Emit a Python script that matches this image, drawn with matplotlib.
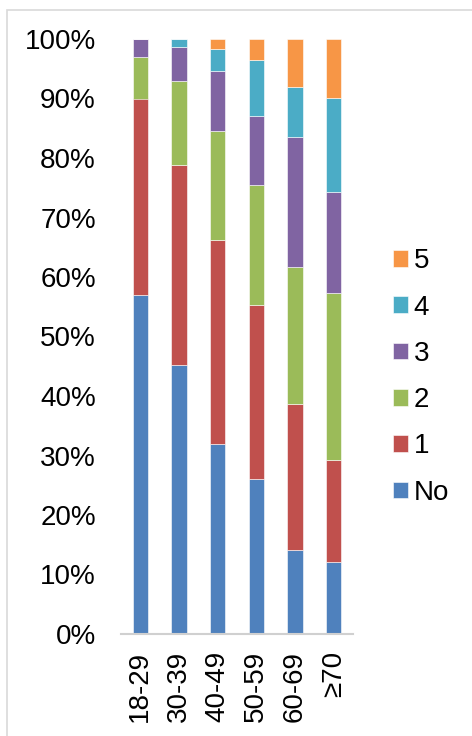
import matplotlib.pyplot as plt
import numpy as np
from matplotlib.patches import Rectangle
from matplotlib.ticker import PercentFormatter

plt.rcParams['font.family'] = ['Liberation Sans', 'DejaVu Sans']

# age groups and share of each count (percent)
groups = ["18-29", "30-39", "40-49", "50-59", "60-69", "\u226570"]
labels = ["No", "1", "2", "3", "4", "5"]
no_vals = [57.0, 45.2, 31.9, 26.1, 14.2, 12.1]
one_vals = [33.0, 33.7, 34.3, 29.2, 24.5, 17.1]
two_vals = [7.0, 14.0, 18.3, 20.1, 22.9, 28.1]
three_vals = [3.0, 5.8, 10.2, 11.7, 21.9, 17.0]
four_vals = [0.0, 1.3, 3.7, 9.3, 8.5, 15.8]
five_vals = [0.0, 0.0, 1.6, 3.6, 8.0, 9.9]
colors = ["#4f81bd", "#c0504d", "#9bbb59", "#8064a2", "#4bacc6", "#f79646"]

series = [no_vals, one_vals, two_vals, three_vals, four_vals, five_vals]

fig = plt.figure(figsize=(4.72, 7.36), dpi=100)
ax = fig.add_axes([121 / 472, 1 - 634 / 736, 232 / 472, 595 / 736])

x = np.arange(len(groups))
bottom = np.zeros(len(groups))
for vals, lab, col in zip(series, labels, colors):
    ax.bar(x, vals, width=0.4, bottom=bottom, color=col, label=lab,
           edgecolor="white", linewidth=0.4)
    bottom += np.array(vals)

ax.set_xlim(-0.5, len(groups) - 0.5)
ax.set_ylim(0, 100)
ax.yaxis.set_major_formatter(PercentFormatter(decimals=0))
ax.set_yticks(np.arange(0, 101, 10))
ax.set_xticks(x)
ax.set_xticklabels(groups, rotation=90, fontsize=20)
ax.tick_params(axis='y', labelsize=20, length=0, pad=18)
ax.tick_params(axis='x', length=0, pad=12)
for s in ["top", "right", "left"]:
    ax.spines[s].set_visible(False)
ax.spines["bottom"].set_color("#d0d0d0")
ax.spines["bottom"].set_linewidth(1.5)

handles, labs = ax.get_legend_handles_labels()
fig.legend(handles[::-1], labs[::-1], loc="center left",
           bbox_to_anchor=(393 / 472, 1 - 377 / 736), frameon=False,
           fontsize=20, handlelength=0.54, handleheight=0.54,
           handletextpad=0.2, labelspacing=0.73, borderpad=0,
           borderaxespad=0)

# chart border
fig.patches.append(Rectangle((7 / 472, -0.1), 1.2, 1.1 - 10 / 736,
                             transform=fig.transFigure, fill=False,
                             edgecolor="#d9d9d9", linewidth=1.2))

fig.savefig("out.png", dpi=100)
